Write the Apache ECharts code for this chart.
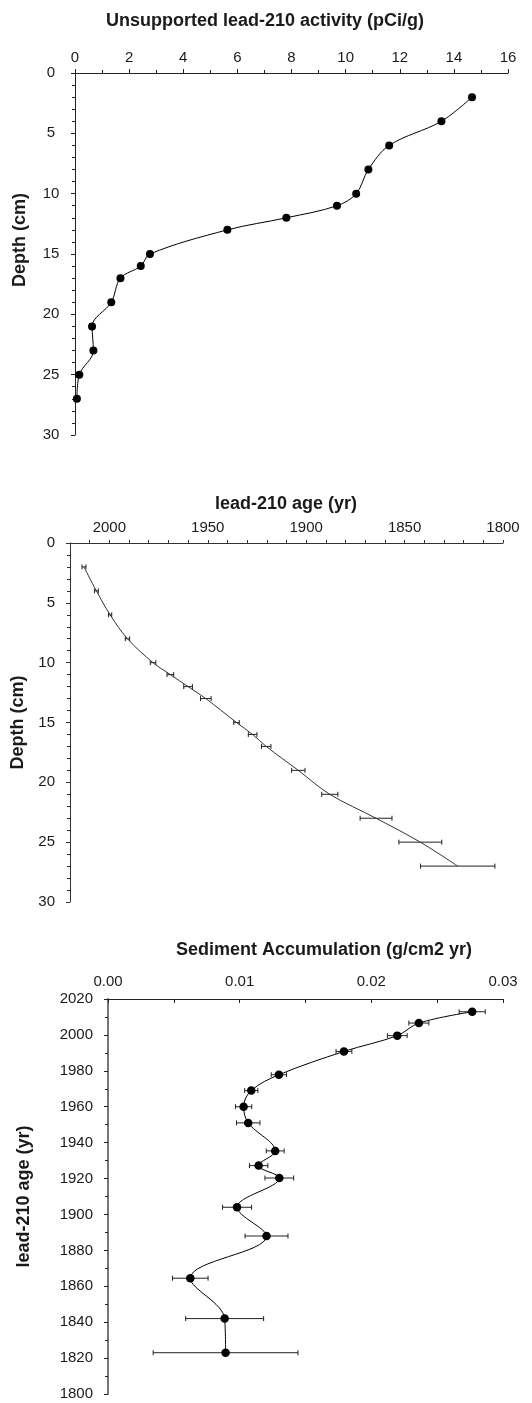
<!DOCTYPE html>
<html>
<head>
<meta charset="utf-8">
<script src="https://cdn.jsdelivr.net/npm/echarts@6/dist/echarts.min.js"></script>
<style>
html,body{margin:0;padding:0;background:#fff;}
#c{width:532px;height:1403px;}
</style>
</head>
<body>
<div id="c"></div>
<script>
// ---- data ----
var depth = [2, 4, 6, 8, 10, 11, 12, 13, 15, 16, 17, 19, 21, 23, 25, 27];
var activity = [14.67, 13.54, 11.61, 10.84, 10.39, 9.68, 7.81, 5.63, 2.77, 2.43, 1.68, 1.34, 0.63, 0.68, 0.16, 0.07];
var age = [2012.9, 2006.6, 1999.6, 1990.8, 1977.8, 1969, 1960, 1951, 1935.4, 1927.2, 1920.3, 1904, 1888, 1864.5, 1842, 1823];
var ageErr = [1, 1, 0.8, 1.1, 1.4, 1.7, 2.2, 2.7, 1.4, 2.2, 2.4, 3.4, 4.1, 8.1, 10.9, 18.9];
var accum = [0.02766, 0.02361, 0.02197, 0.01792, 0.01298, 0.01088, 0.0103, 0.01065, 0.0127, 0.01144, 0.01301, 0.0098, 0.01204, 0.00625, 0.00886, 0.00893];
var accumErr = [0.00099, 0.00076, 0.00075, 0.0006, 0.00058, 0.0005, 0.00062, 0.00089, 0.00068, 0.0007, 0.00109, 0.0011, 0.00163, 0.00135, 0.00296, 0.0055];
var titles = ['Unsupported lead-210 activity (pCi/g)', 'lead-210 age (yr)', 'Sediment Accumulation (g/cm2 yr)'];
var yNames = ['Depth (cm)', 'Depth (cm)', 'lead-210 age (yr)'];

var FONT = 'Liberation Sans, Arial, sans-serif';
var TXT = '#1a1a1a';

function pairs(xs, ys) { return xs.map(function (x, i) { return [x, ys[i]]; }); }
function errRows(vals, errs, ys) { return vals.map(function (v, i) { return [v - errs[i], ys[i], v + errs[i]]; }); }

function errRender(cap, color) {
  return function (params, api) {
    var y = api.value(1);
    var a = api.coord([api.value(0), y]);
    var b = api.coord([api.value(2), y]);
    var st = { stroke: color, lineWidth: 1 };
    return {
      type: 'group',
      children: [
        { type: 'line', shape: { x1: a[0], y1: a[1], x2: b[0], y2: b[1] }, style: st },
        { type: 'line', shape: { x1: a[0], y1: a[1] - cap, x2: a[0], y2: a[1] + cap }, style: st },
        { type: 'line', shape: { x1: b[0], y1: b[1] - cap, x2: b[0], y2: b[1] + cap }, style: st }
      ]
    };
  };
}

var labelStyle = { color: TXT, fontFamily: FONT, fontSize: 15 };
var nameStyle = { color: TXT, fontFamily: FONT, fontSize: 18, fontWeight: 'bold' };
var titleStyle = { color: TXT, fontFamily: FONT, fontSize: 18, fontWeight: 'bold' };

var chart = echarts.init(document.getElementById('c'), null, { renderer: 'canvas' });
chart.setOption({
  animation: false,
  backgroundColor: '#fff',
  title: [
    { text: titles[0], left: 260, top: 7, textAlign: 'center', textStyle: titleStyle },
    { text: titles[1], left: 281, top: 490, textAlign: 'center', textStyle: titleStyle },
    { text: titles[2], left: 319, top: 936, textAlign: 'center', textStyle: titleStyle }
  ],
  graphic: [
    {
      type: 'text', x: 20, y: 240, rotation: Math.PI / 2,
      style: { text: yNames[0], fill: TXT, font: 'bold 18px ' + FONT, textAlign: 'center', textVerticalAlign: 'middle' }
    }
  ],
  grid: [
    { left: 75, top: 73, width: 433, height: 362 },
    { left: 70, top: 543, width: 433, height: 359 },
    { left: 108, top: 999, width: 395, height: 395 }
  ],
  xAxis: [
    {
      gridIndex: 0, type: 'value', position: 'top', min: 0, max: 16, interval: 2,
      axisLine: { lineStyle: { color: '#222', width: 1 } },
      axisTick: { show: true, length: 4, lineStyle: { color: '#222' } },
      minorTick: { show: true, splitNumber: 2, length: 3, lineStyle: { color: '#222' } },
      splitLine: { show: false },
      axisLabel: Object.assign({ margin: 8 }, labelStyle)
    },
    {
      gridIndex: 1, type: 'value', position: 'top', min: 1800, max: 2020, interval: 10, inverse: true,
      axisLine: { lineStyle: { color: '#333', width: 1 } },
      axisTick: { show: true, length: 3, lineStyle: { color: '#333' } },
      splitLine: { show: false },
      axisLabel: Object.assign({
        margin: 8, hideOverlap: false, showMinLabel: true, showMaxLabel: false,
        formatter: function (v) { return (Math.round(v) % 50 === 0) ? String(Math.round(v)) : ''; }
      }, labelStyle)
    },
    {
      gridIndex: 2, type: 'value', position: 'top', min: 0, max: 0.03, interval: 0.01,
      axisLine: { lineStyle: { color: '#222', width: 1 } },
      axisTick: { show: true, inside: true, length: 4, lineStyle: { color: '#222' } },
      minorTick: { show: true, splitNumber: 2, length: 4, lineStyle: { color: '#222' } },
      splitLine: { show: false },
      axisLabel: Object.assign({ margin: 10, formatter: function (v) { return v.toFixed(2); } }, labelStyle)
    }
  ],
  yAxis: [
    {
      gridIndex: 0, type: 'value', min: 0, max: 30, interval: 5, inverse: true,
      axisLine: { lineStyle: { color: '#222', width: 1 } },
      axisTick: { show: true, length: 4, lineStyle: { color: '#222' } },
      minorTick: { show: true, splitNumber: 5, length: 3, lineStyle: { color: '#222' } },
      splitLine: { show: false },
      axisLabel: Object.assign({ margin: 24, align: 'center' }, labelStyle)
    },
    {
      gridIndex: 1, type: 'value', min: 0, max: 30, interval: 5, inverse: true,
      name: yNames[1], nameLocation: 'middle', nameGap: 40, nameTextStyle: nameStyle,
      axisLine: { lineStyle: { color: '#333', width: 1 } },
      axisTick: { show: true, length: 4, lineStyle: { color: '#333' } },
      minorTick: { show: true, splitNumber: 5, length: 3, lineStyle: { color: '#333' } },
      splitLine: { show: false },
      axisLabel: Object.assign({ margin: 15 }, labelStyle)
    },
    {
      gridIndex: 2, type: 'value', min: 1800, max: 2020, interval: 20,
      name: yNames[2], nameLocation: 'middle', nameGap: 75, nameTextStyle: nameStyle,
      axisLine: { lineStyle: { color: '#777', width: 2 } },
      axisTick: { show: true, length: 4, lineStyle: { color: '#222' } },
      minorTick: { show: true, splitNumber: 2, length: 3, lineStyle: { color: '#222' } },
      splitLine: { show: false },
      axisLabel: Object.assign({ margin: 15, formatter: function (v) { return String(v); } }, labelStyle)
    }
  ],
  series: [
    {
      type: 'line', xAxisIndex: 0, yAxisIndex: 0, data: pairs(activity, depth),
      smooth: 0.35, symbol: 'circle', symbolSize: 8,
      itemStyle: { color: '#000' }, lineStyle: { color: '#000', width: 1 }
    },
    {
      type: 'line', xAxisIndex: 1, yAxisIndex: 1, data: pairs(age, depth),
      smooth: 0.35, showSymbol: false, symbol: 'none',
      lineStyle: { color: '#333', width: 1 }
    },
    {
      type: 'custom', xAxisIndex: 1, yAxisIndex: 1, data: errRows(age, ageErr, depth),
      encode: { x: [0, 2], y: 1 }, renderItem: errRender(2.5, '#222'), z: 3
    },
    {
      type: 'custom', xAxisIndex: 2, yAxisIndex: 2, data: errRows(accum, accumErr, age),
      encode: { x: [0, 2], y: 1 }, renderItem: errRender(2.5, '#222'), z: 2
    },
    {
      type: 'line', xAxisIndex: 2, yAxisIndex: 2, data: pairs(accum, age),
      smooth: 0.35, symbol: 'circle', symbolSize: 8.5, z: 4,
      itemStyle: { color: '#000' }, lineStyle: { color: '#000', width: 1 }
    }
  ]
});
</script>
</body>
</html>
